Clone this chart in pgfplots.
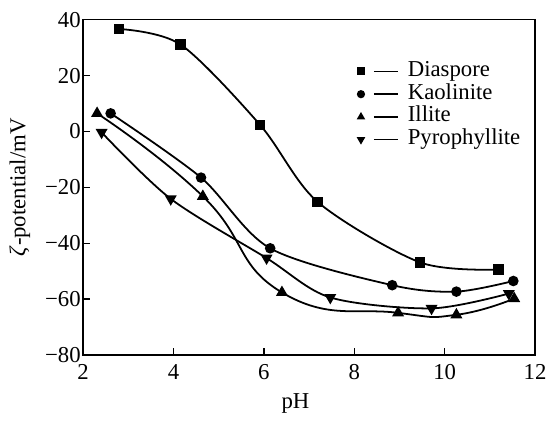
\documentclass[border=0pt]{standalone}
\usepackage{fontspec}
\setmainfont{Liberation Serif}
\usepackage{pgfplots}
\pgfplotsset{compat=1.18}
\begin{document}
\fontsize{11.5}{13.8}\selectfont
\begin{tikzpicture}
\path (-42pt,-29pt) rectangle (235pt,179.5pt);
\begin{axis}[
  at={(0,0)}, anchor=south west,
  scale only axis, width=228.5pt, height=169.5pt,
  xmin=2, xmax=12, ymin=-80, ymax=40,
  xtick={2,4,6,8,10,12}, ytick={-80,-60,-40,-20,0,20,40},
  yticklabels={−80,−60,−40,−20,0,20,40},
  xticklabels={2,4,6,8,10,12},
  tick align=inside, tick pos=left,
  major tick length=3.5pt,
  axis line style={line width=0.7pt},
  tick style={line width=0.7pt, black},
  font=\fontsize{11.5}{13.8}\selectfont,
  yticklabel style={inner xsep=1pt},
  xticklabel style={inner ysep=4.6pt},
  xlabel={pH}, ylabel={\textit{ζ}-potential/mV},
  xlabel style={at={(axis description cs:0.47,-0.145)}, anchor=center},
  ylabel style={at={(axis description cs:-0.14,0.5)}, anchor=center},
  legend cell align=left,
  legend style={at={(axis description cs:0.607,0.881)}, anchor=north west, draw=none, fill=none,
    inner sep=0pt, column sep=4.5pt, row sep=0pt,
    nodes={inner sep=0pt, text height=8.2pt, text depth=3.3pt}},
  legend image code/.code={
    \draw[mark size=1.6pt] plot[only marks] coordinates {(0pt,0pt)};
    \draw[line width=0.8pt] (6.5pt,0pt) -- (18.8pt,0pt);
  },
  every axis plot/.append style={line width=0.9pt, black, smooth, mark options={solid, fill=black}},
]
\addplot[mark=square*, mark size=2.2pt] coordinates {(2.8,36.7) (4.16,31.1) (5.92,2.3) (7.19,-25.2) (9.45,-46.8) (11.19,-49.4)};
\addlegendentry{Diaspore}
\addplot[mark=*, mark size=2.2pt] coordinates {(2.61,6.5) (4.61,-16.5) (6.14,-41.8) (8.84,-55.0) (10.26,-57.3) (11.52,-53.5)};
\addlegendentry{Kaolinite}
\addplot[mark=triangle*, mark size=2.6pt, tension=0.85] coordinates {(2.31,6.5) (4.65,-23.2) (6.40,-57.6) (8.97,-64.9) (10.26,-65.6) (11.54,-59.8)};
\addlegendentry{Illite}
\addplot[mark=triangle*, mark size=2.6pt, mark options={rotate=180}] coordinates {(2.41,-0.3) (3.94,-24.1) (6.06,-45.3) (7.47,-59.4) (9.71,-63.3) (11.42,-58.0)};
\addlegendentry{Pyrophyllite}
\end{axis}
\end{tikzpicture}
\end{document}
